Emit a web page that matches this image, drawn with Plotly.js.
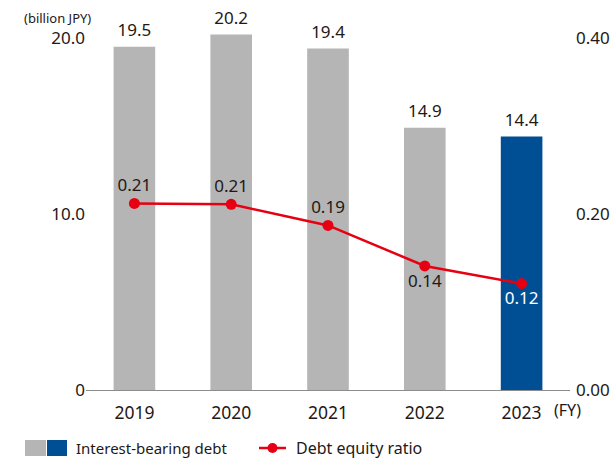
<!DOCTYPE html>
<html><head><meta charset="utf-8">
<script src="https://cdn.plot.ly/plotly-3.0.1.min.js"></script>
<style>html,body{margin:0;padding:0;background:#fff;}#chart{width:615px;height:460px;}</style>
</head><body><div id="chart"></div>
<script>
const years = ['2019','2020','2021','2022','2023'];
const debt = [19.5, 20.2, 19.4, 14.9, 14.4];
const ratio = [0.212, 0.211, 0.187, 0.141, 0.121];
const ratioLabels = ['0.21','0.21','0.19','0.14','0.12'];
const barColors = ['#b5b5b5','#b5b5b5','#b5b5b5','#b5b5b5','#004f94'];
const ratioLabelPos = ['top center','top center','top center','bottom center','bottom center'];
const ratioLabelColors = ['#231815','#231815','#231815','#231815','#ffffff'];

const txt = '#231815';
const F = '"Noto Sans", sans-serif';

const bars = {
  type:'bar', x: years, y: debt,
  marker:{color: barColors},
  width: 0.43,
  cliponaxis:false, hoverinfo:'none'
};
const barText = {
  type:'scatter', mode:'markers+text', x: years, y: debt,
  marker:{size:9, opacity:0},
  text: debt.map(v=>v.toFixed(1)), textposition:'top center',
  textfont:{family:F, size:17, color:txt},
  cliponaxis:false, hoverinfo:'none'
};
const line = {
  type:'scatter', mode:'lines+markers+text', x: years, y: ratio, yaxis:'y2',
  line:{color:'#e60012', width:2.5}, marker:{color:'#e60012', size:11},
  text: ratioLabels, textposition: ratioLabelPos,
  textfont:{family:F, size:17, color: ratioLabelColors},
  cliponaxis:false, hoverinfo:'none'
};

const TOP = 20.4;
const L=86, T=31, W=484, H=359;
const px = x => (x-L)/W;
const py = y => (T+H-y)/H;

const layout = {
  width:615, height:460,
  margin:{l:L, r:615-L-W, t:T, b:460-T-H},
  paper_bgcolor:'#fff', plot_bgcolor:'#fff',
  showlegend:false,
  font:{family:F, color:txt, size:16},
  xaxis:{type:'category', range:[-0.5,4.5], showline:true, linecolor:'#8c8c8c', linewidth:1.2,
    ticks:'', showgrid:false, zeroline:false, ticklabelstandoff:7, tickfont:{family:F,size:17.5,color:txt}},
  yaxis:{range:[0,TOP], tickvals:[0,10,20], ticktext:['0','10.0','20.0'], showgrid:false, zeroline:false,
    showline:false, ticks:'', tickfont:{family:F,size:17,color:txt}},
  yaxis2:{range:[0,TOP/50], overlaying:'y', side:'right', tickvals:[0,0.2,0.4], ticktext:['0.00','0.20','0.40'],
    showgrid:false, zeroline:false, showline:false, ticks:'', ticklabelstandoff:5, tickfont:{family:F,size:17,color:txt}},
  annotations: [
    {xref:'paper', yref:'paper', x:px(57), y:py(18), text:'(billion JPY)', showarrow:false,
      xanchor:'center', yanchor:'middle', font:{family:F,size:13,color:txt}},
    {xref:'paper', yref:'paper', x:px(567), y:py(410), text:'(FY)', showarrow:false,
      xanchor:'center', yanchor:'middle', font:{family:F,size:16,color:txt}},
    {xref:'paper', yref:'paper', x:px(74), y:py(448), text:'Interest-bearing debt', showarrow:false,
      xanchor:'left', yanchor:'middle', font:{family:F,size:15,color:txt}},
    {xref:'paper', yref:'paper', x:px(294), y:py(448), text:'Debt equity ratio', showarrow:false,
      xanchor:'left', yanchor:'middle', font:{family:F,size:16,color:txt}}
  ],
  shapes:[
    {type:'rect', xref:'paper', yref:'paper', x0:px(25), x1:px(46), y0:py(440), y1:py(456), fillcolor:'#b5b5b5', line:{width:0}},
    {type:'rect', xref:'paper', yref:'paper', x0:px(47), x1:px(67), y0:py(440), y1:py(456), fillcolor:'#004f94', line:{width:0}},
    {type:'line', xref:'paper', yref:'paper', x0:px(259), x1:px(286), y0:py(448), y1:py(448), line:{color:'#e60012', width:2.5}},
    {type:'circle', xref:'paper', yref:'paper', x0:px(267.5), x1:px(277.5), y0:py(443), y1:py(453), fillcolor:'#e60012', line:{width:0}}
  ]
};
Plotly.newPlot('chart', [bars, barText, line], layout, {displayModeBar:false, staticPlot:true});
</script></body></html>
